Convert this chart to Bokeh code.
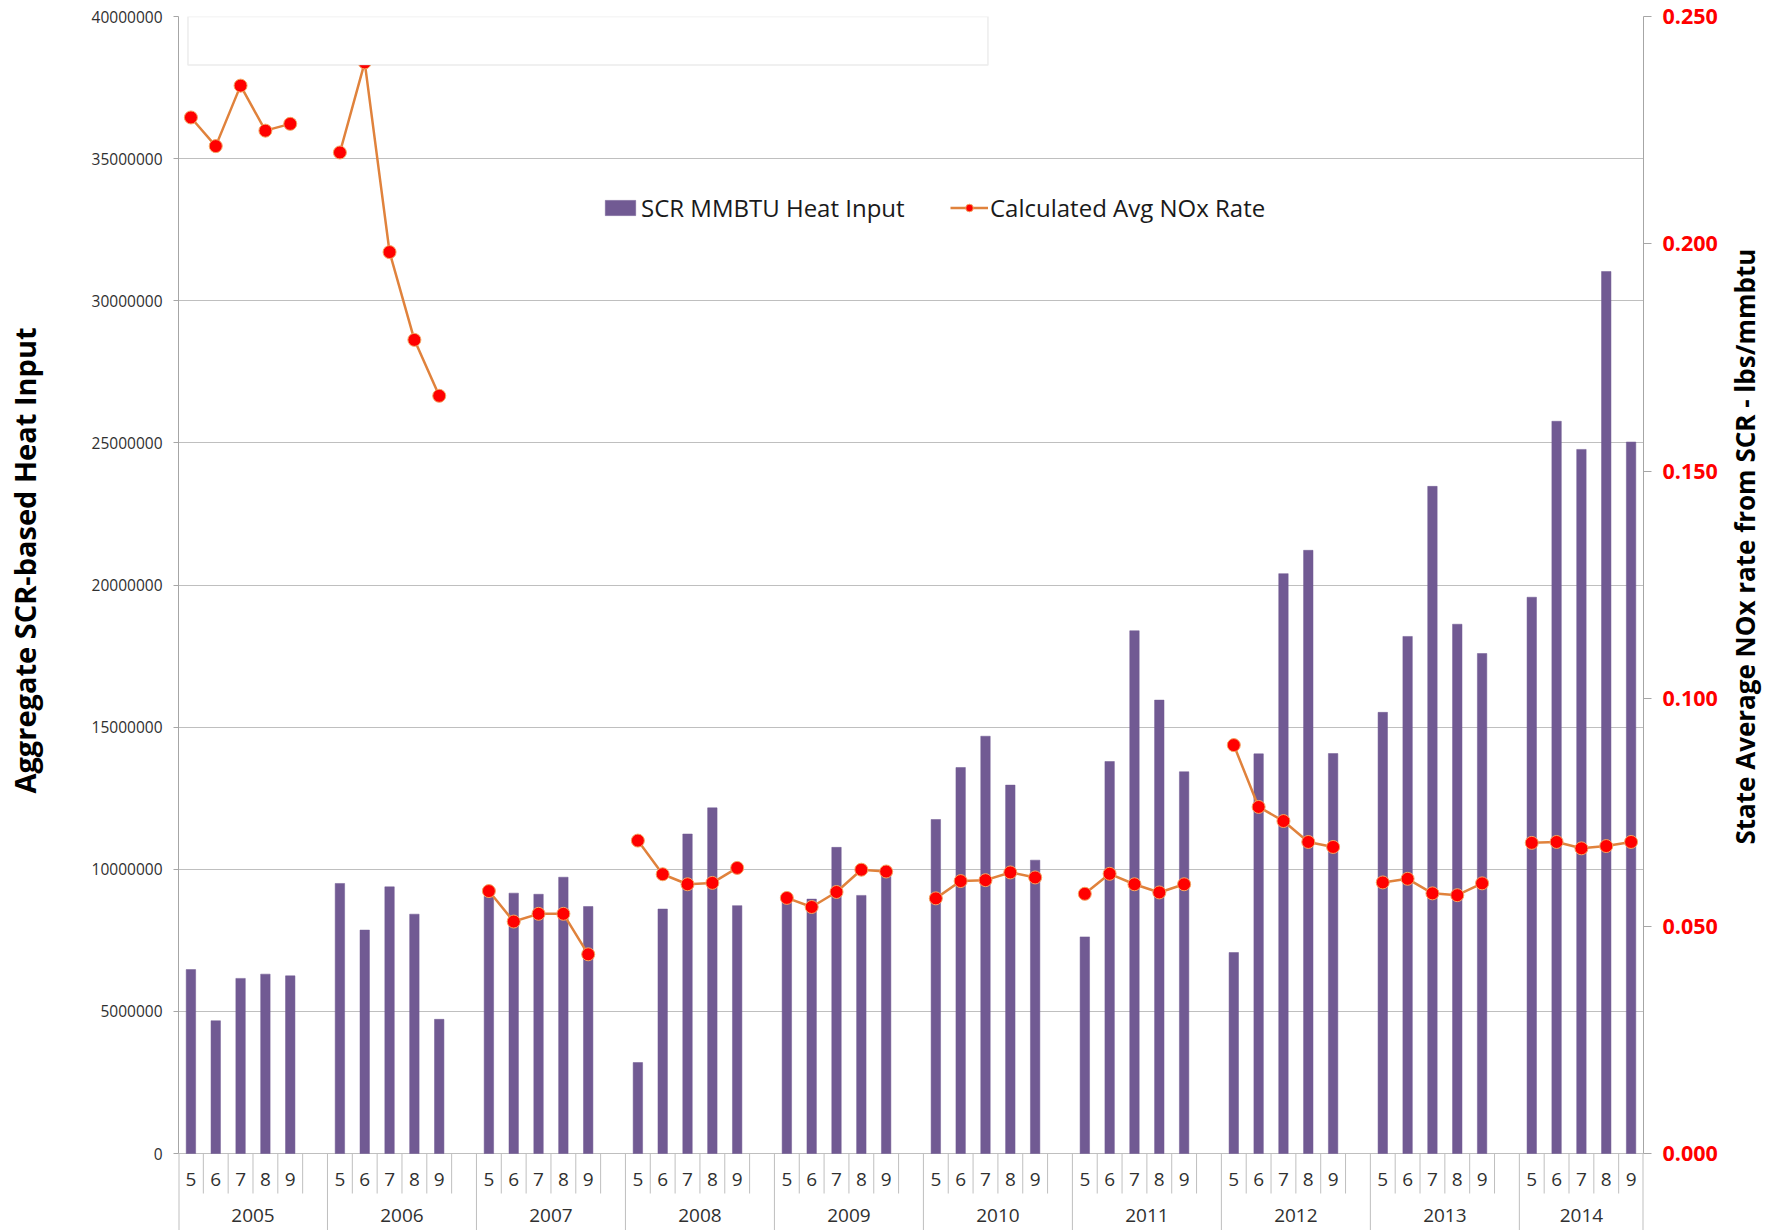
import math
from bokeh.plotting import figure
from bokeh.models import (FactorRange, Range1d, LinearAxis, FixedTicker, NumeralTickFormatter,
                          ColumnDataSource, Legend, LegendItem, BoxAnnotation)
from bokeh.core.properties import value
from bokeh.embed import file_html
from bokeh.resources import INLINE

# ---------------- data ----------------
years = ["2005", "2006", "2007", "2008", "2009", "2010", "2011", "2012", "2013", "2014"]
months = ["5", "6", "7", "8", "9"]

# SCR MMBTU Heat Input (per year, months 5..9)
heat_input = [
    6470000, 4670000, 6160000, 6310000, 6250000,        # 2005
    9500000, 7860000, 9380000, 8420000, 4720000,        # 2006
    9050000, 9160000, 9120000, 9720000, 8690000,        # 2007
    3200000, 8600000, 11240000, 12160000, 8720000,      # 2008
    9000000, 8950000, 10770000, 9080000, 9850000,       # 2009
    11750000, 13580000, 14680000, 12960000, 10320000,   # 2010
    7620000, 13790000, 18390000, 15950000, 13430000,    # 2011
    7070000, 14060000, 20400000, 21220000, 14070000,    # 2012
    15520000, 18190000, 23470000, 18620000, 17590000,   # 2013
    19570000, 25760000, 24770000, 31030000, 25030000,   # 2014
]

# Calculated Avg NOx Rate (lbs/mmbtu)
nox_rate = [
    0.2278, 0.2215, 0.2348, 0.2249, 0.2264,   # 2005
    0.2201, 0.2399, 0.1982, 0.1789, 0.1666,   # 2006
    0.0577, 0.0510, 0.0527, 0.0527, 0.0438,   # 2007
    0.0688, 0.0614, 0.0592, 0.0595, 0.0628,   # 2008
    0.0562, 0.0542, 0.0575, 0.0624, 0.0620,   # 2009
    0.0561, 0.0599, 0.0601, 0.0618, 0.0607,   # 2010
    0.0571, 0.0615, 0.0592, 0.0574, 0.0592,   # 2011
    0.0898, 0.0762, 0.0731, 0.0685, 0.0674,   # 2012
    0.0596, 0.0604, 0.0572, 0.0568, 0.0594,   # 2013
    0.0683, 0.0685, 0.0671, 0.0676, 0.0685,   # 2014
]

left_ticks = [0, 5000000, 10000000, 15000000, 20000000, 25000000, 30000000, 35000000, 40000000]
right_ticks = [0.0, 0.05, 0.10, 0.15, 0.20, 0.25]
left_title = "Aggregate SCR-based Heat Input"
right_title = "State Average NOx rate from SCR - lbs/mmbtu"

# ---------------- layout constants (pixels) ----------------
W, H = 1783, 1230
BORDER_L, BORDER_R, BORDER_T = 178, 139, 16
ZERO_Y = 1153                         # canvas row of the zero line
Y_MAX = left_ticks[-1]
R_MAX = right_ticks[-1]
px_per_unit = (ZERO_Y - BORDER_T) / Y_MAX
below_px = H - ZERO_Y
y_start = -below_px / px_per_unit

def px_below_zero(px):
    return -px / px_per_unit

def at_canvas_row(row):
    # left-axis value that sits at a given canvas pixel row
    return round((ZERO_Y - row) / px_per_unit)

FONT = "Open Sans"
BAR_COLOR = "#715A93"
LINE_COLOR = "#E0823C"
GRID_COLOR = "#BFBFBF"
AXIS_COLOR = "#A6A6A6"
TEXT_COLOR = "#303030"

# ---------------- factors ----------------
factors = []
groups = []
for i, yr in enumerate(years):
    slots = [(yr, m) for m in months]
    if i < len(years) - 1:
        slots.append((yr, " "))
    groups.append(slots)
    factors.extend(slots)

bar_x = [(yr, m) for yr in years for m in months]

line_x, line_y = [], []
k = 0
for slots in groups:
    for f in slots:
        line_x.append(f)
        if f[1] == " ":
            line_y.append(float("nan"))
        else:
            line_y.append(nox_rate[k])
            k += 1

p = figure(
    x_range=FactorRange(*factors, factor_padding=0, group_padding=0, subgroup_padding=0, range_padding=0),
    y_range=Range1d(y_start, Y_MAX),
    width=W, height=H,
    min_border_left=BORDER_L, min_border_right=BORDER_R,
    min_border_top=BORDER_T, min_border_bottom=0,
    x_axis_location=None,
    output_backend="svg", toolbar_location=None,
)
p.outline_line_color = None
p.background_fill_color = "white"
p.border_fill_color = "white"

def plain_axis(ax):
    ax.major_tick_in = 0
    ax.minor_tick_out = 0
    ax.minor_tick_in = 0

# left axis
yax = p.yaxis[0]
yax.ticker = FixedTicker(ticks=left_ticks)
yax.formatter = NumeralTickFormatter(format="0")
yax.bounds = (0, Y_MAX)
plain_axis(yax)
yax.major_tick_out = 5
yax.major_label_standoff = 11
yax.axis_line_color = AXIS_COLOR
yax.major_tick_line_color = AXIS_COLOR
yax.major_label_text_font = FONT
yax.major_label_text_font_size = "15.5px"
yax.major_label_text_color = TEXT_COLOR

p.ygrid.ticker = FixedTicker(ticks=left_ticks)
p.ygrid.grid_line_color = GRID_COLOR
p.ygrid.grid_line_width = 1
for g in p.xgrid:
    g.visible = False

# left title (a single rotated label centred on its row)
L_TITLE_AT = at_canvas_row(560)
tl = LinearAxis(ticker=FixedTicker(ticks=[L_TITLE_AT]),
                major_label_overrides={L_TITLE_AT: left_title})
plain_axis(tl)
tl.major_tick_out = 0
tl.axis_line_color = None
tl.major_tick_line_color = None
tl.major_label_orientation = "vertical"
tl.major_label_standoff = 45
tl.major_label_text_font = FONT
tl.major_label_text_font_size = "29px"
tl.major_label_text_font_style = "bold"
tl.major_label_text_color = "#000000"
p.add_layout(tl, "left")

# right axis
p.extra_y_ranges = {"nox": Range1d(start=y_start * R_MAX / Y_MAX, end=R_MAX)}
rax = LinearAxis(y_range_name="nox", ticker=FixedTicker(ticks=right_ticks),
                 formatter=NumeralTickFormatter(format="0.000"))
rax.bounds = (0, R_MAX)
plain_axis(rax)
rax.major_tick_out = 8
rax.major_label_standoff = 11
rax.axis_line_color = AXIS_COLOR
rax.major_tick_line_color = AXIS_COLOR
rax.major_label_text_font = FONT
rax.major_label_text_font_size = "21.5px"
rax.major_label_text_font_style = "bold"
rax.major_label_text_color = "#FF0000"
p.add_layout(rax, "right")

# right title (reads bottom to top, starting at its row)
R_TITLE_START = at_canvas_row(844)
tr = LinearAxis(ticker=FixedTicker(ticks=[R_TITLE_START]),
                major_label_overrides={R_TITLE_START: right_title})
plain_axis(tr)
tr.major_tick_out = 0
tr.axis_line_color = None
tr.major_tick_line_color = None
tr.major_label_orientation = math.pi / 2
tr.major_label_standoff = 24
tr.major_label_text_font = FONT
tr.major_label_text_font_size = "26px"
tr.major_label_text_font_style = "bold"
tr.major_label_text_color = "#000000"
p.add_layout(tr, "right")

# category separators (and the axis lines continued below zero)
MONTH_SEP = px_below_zero(40)
sep_x, sep_y1, sep_w = [], [], []
sep_x.append((factors[0][0], factors[0][1], -0.5)); sep_y1.append(y_start); sep_w.append(2)
sep_x.append((factors[-1][0], factors[-1][1], 0.5)); sep_y1.append(y_start); sep_w.append(2)
for gi, slots in enumerate(groups):
    for si, f in enumerate(slots):
        last_in_group = (si == len(slots) - 1)
        if last_in_group and gi == len(groups) - 1:
            continue
        sep_x.append((f[0], f[1], 0.5))
        sep_y1.append(y_start if last_in_group else MONTH_SEP)
        sep_w.append(1)
src_sep = ColumnDataSource(dict(x=sep_x, y0=[0] * len(sep_x), y1=sep_y1, w=sep_w))
p.segment(x0="x", y0="y0", x1="x", y1="y1", source=src_sep,
          line_color=GRID_COLOR, line_width="w")

# month labels
p.text(x=bar_x, y=[px_below_zero(26)] * len(bar_x), text=[f[1] for f in bar_x],
       text_align="center", text_baseline="middle", text_font=value(FONT),
       text_font_size="19px", text_color=TEXT_COLOR)

# year labels centred on their groups
yl_x = []
for slots in groups:
    n = len(slots)
    j = min(n // 2, n - 1)
    off = n / 2 - (j + 0.5)
    yl_x.append((slots[j][0], slots[j][1], off))
p.text(x=yl_x, y=[px_below_zero(62)] * len(yl_x), text=years,
       text_align="center", text_baseline="middle", text_font=value(FONT),
       text_font_size="19px", text_color=TEXT_COLOR)

# bars
bars = p.vbar(x=bar_x, top=heat_input, width=0.38, bottom=0,
              fill_color=BAR_COLOR, line_color=BAR_COLOR, line_width=0.5)

# NOx line with markers (breaks between years)
src_line = ColumnDataSource(dict(x=line_x, y=line_y))
ln = p.line(x="x", y="y", source=src_line, y_range_name="nox",
            line_color=LINE_COLOR, line_width=2.5)
pts = p.scatter(x=bar_x, y=nox_rate, y_range_name="nox", size=13, marker="circle",
                fill_color="#FF0000", line_color="#F4A460", line_width=1)

# empty text box at the top left (cut off in the original)
slot_px = (W - BORDER_L - BORDER_R) / len(factors)
box = BoxAnnotation(left=9.5 / slot_px, right=810 / slot_px,
                    bottom=Y_MAX - 48.4 / px_per_unit,
                    fill_color="white", fill_alpha=1.0,
                    line_color="#BFBFBF", line_width=1.5)
p.add_layout(box)

# legends
frame_h = H - BORDER_T
leg_bottom = frame_h - (208 - BORDER_T) - 16
leg1 = Legend(items=[LegendItem(label="SCR MMBTU Heat Input", renderers=[bars])],
              location=(423, leg_bottom))
leg2 = Legend(items=[LegendItem(label="Calculated Avg NOx Rate", renderers=[ln, pts])],
              location=(772, leg_bottom))
for lg in (leg1, leg2):
    lg.border_line_color = None
    lg.background_fill_alpha = 0
    lg.padding = 0
    lg.margin = 0
    lg.glyph_width = 38
    lg.glyph_height = 19
    lg.label_standoff = 2
    lg.label_text_font = FONT
    lg.label_text_font_size = "24px"
    lg.label_text_color = "#1a1a1a"
    lg.label_text_baseline = "middle"
    p.add_layout(lg, "center")

open("out.html", "w").write(file_html(p, INLINE))
